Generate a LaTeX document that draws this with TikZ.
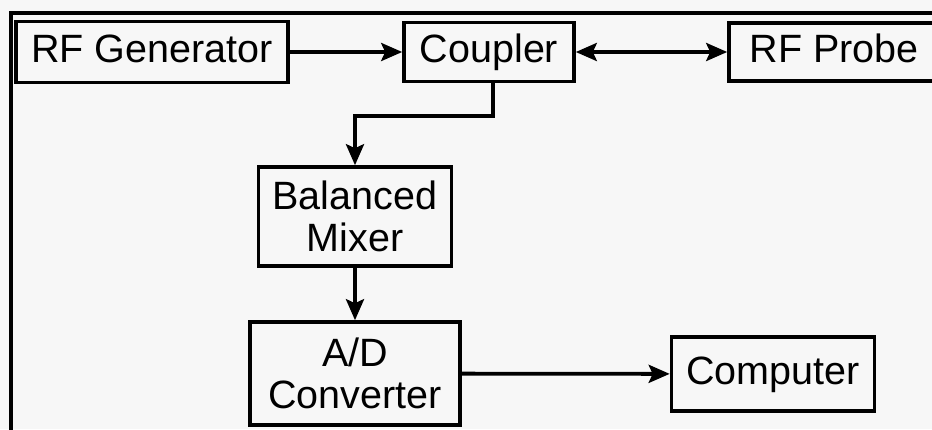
\documentclass[tikz,border=0pt]{standalone}
\usepackage{fontspec}
\setmainfont{Liberation Sans}
\usetikzlibrary{arrows.meta}
\begin{document}
\begin{tikzpicture}[x=1pt,y=-1pt,
  blk/.style={draw=black,line width=3.6pt,fill=none,inner sep=0pt,align=center,
    font=\fontsize{39.5}{42}\selectfont},
  one/.style={text height=28pt,text depth=8pt},
  arr/.style={line width=3.8pt,-{Stealth[length=21pt,width=18pt,inset=4pt]}},
  darr/.style={line width=3.8pt,{Stealth[length=21pt,width=18pt,inset=4pt]}-{Stealth[length=21pt,width=18pt,inset=4pt]}}]
\useasboundingbox (0,0) rectangle (932,429);
\fill[white!97!black] (0,0) rectangle (932,429);
% outer frame
\draw[line width=3.2pt] (11,432) -- (11,13) -- (936,13);
% blocks
\node[blk,one,minimum width=272pt,minimum height=61pt] (gen) at (152,52) {RF Generator};
\node[blk,one,minimum width=170pt,minimum height=59pt] (cpl) at (489,52) {Coupler};
\node[blk,one,minimum width=210pt,minimum height=58pt] (prb) at (834,52) {RF Probe};
\node[blk,minimum width=193pt,minimum height=99pt] (mix) at (355,216.5) {Balanced\\Mixer};
\node[blk,minimum width=210pt,minimum height=103pt] (ad) at (355,373.5) {A/D\\Converter};
\node[blk,one,minimum width=203pt,minimum height=74pt] (cmp) at (773,374) {Computer};
% connectors
\coordinate (bend) at (493,116);
\draw[arr] (gen) -- (cpl);
\draw[darr] (cpl) -- (prb);
\draw[arr] (bend |- cpl.south) -- (bend) -| (mix.north);
\draw[arr] (mix) -- (ad);
\draw[arr] (ad) -- (cmp);
\end{tikzpicture}
\end{document}
